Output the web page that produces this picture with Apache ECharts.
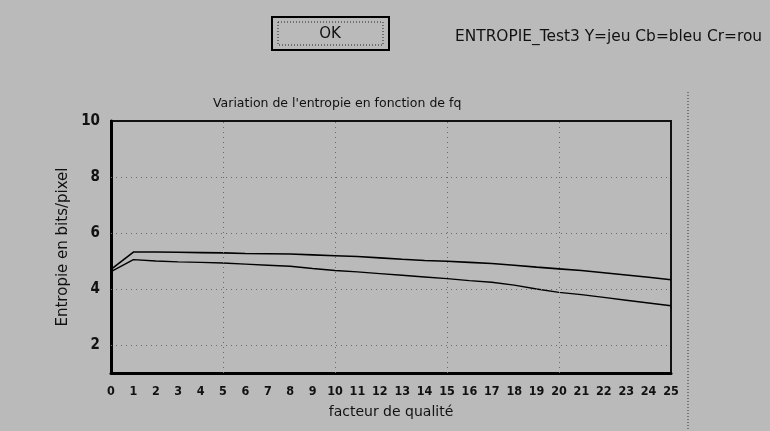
<!DOCTYPE html>
<html>
<head>
<meta charset="utf-8">
<script src="https://cdn.jsdelivr.net/npm/echarts@6/dist/echarts.min.js"></script>
<style>
  html, body { margin: 0; padding: 0; background: #bababa; }
  #chart { width: 770px; height: 431px; }
</style>
</head>
<body>
<div id="chart"></div>
<script>
// Quality factor (fq) 0..25
const qualityFactors = [0,1,2,3,4,5,6,7,8,9,10,11,12,13,14,15,16,17,18,19,20,21,22,23,24,25];

// Entropy (bits/pixel) for the two curves
const entropyUpper = [4.70,5.32,5.32,5.31,5.30,5.29,5.27,5.26,5.25,5.22,5.19,5.16,5.11,5.06,5.02,4.99,4.95,4.91,4.85,4.78,4.72,4.66,4.58,4.50,4.42,4.33];
const entropyLower = [4.62,5.05,5.00,4.97,4.95,4.93,4.89,4.85,4.81,4.73,4.66,4.61,4.55,4.49,4.43,4.37,4.30,4.24,4.14,4.00,3.88,3.80,3.70,3.60,3.50,3.40];

// Value axis labels and dotted guide positions
const yTickLabels = [2,4,6,8,10];
const yGuides = [2,4,6,8];
const xGuides = [5,10,15,20];

const chart = echarts.init(document.getElementById('chart'));

const pairs = (ys) => qualityFactors.map((x, i) => [x, ys[i]]);

const guideData = yGuides.map(v => ({ yAxis: v })).concat(xGuides.map(v => ({ xAxis: v })));

chart.setOption({
  backgroundColor: '#bababa',
  animation: false,
  title: {
    text: "Variation de l'entropie en fonction de fq",
    left: 213,
    top: 97,
    padding: 0,
    textStyle: { fontFamily: 'DejaVu Sans', fontSize: 12.5, fontWeight: 'normal', color: '#111' }
  },
  grid: {
    left: 111, right: 99, top: 121, bottom: 58,
    show: true, borderColor: '#111', borderWidth: 2, backgroundColor: 'transparent'
  },
  xAxis: {
    type: 'value', min: 0, max: 25, interval: 1,
    name: 'facteur de qualité', nameLocation: 'middle', nameGap: 32,
    nameTextStyle: { fontFamily: 'DejaVu Sans', fontSize: 14, color: '#111' },
    axisLine: { lineStyle: { color: '#000', width: 3 } },
    axisTick: { show: false },
    splitLine: { show: false },
    axisLabel: { margin: 12, color: '#111', fontFamily: 'DejaVu Sans Condensed', fontWeight: 'bold', fontSize: 12.5 }
  },
  yAxis: {
    type: 'value', min: 1, max: 10, interval: 1,
    name: 'Entropie en bits/pixel', nameLocation: 'middle', nameGap: 35, nameRotate: 90,
    nameTextStyle: { fontFamily: 'DejaVu Sans', fontSize: 15, color: '#111' },
    axisLine: { lineStyle: { color: '#000', width: 3 } },
    axisTick: { show: false },
    splitLine: { show: false },
    axisLabel: {
      margin: 11, color: '#111', fontFamily: 'DejaVu Sans Condensed', fontWeight: 'bold', fontSize: 15,
      formatter: (v) => yTickLabels.includes(v) ? String(v) : ''
    }
  },
  series: [
    {
      type: 'line', data: pairs(entropyUpper), symbol: 'none',
      lineStyle: { color: '#000', width: 1.6 },
      markLine: {
        silent: true, symbol: 'none', label: { show: false },
        lineStyle: { color: '#6a6a6a', width: 1, type: [1, 4] },
        data: guideData
      }
    },
    {
      type: 'line', data: pairs(entropyLower), symbol: 'none',
      lineStyle: { color: '#000', width: 1.4 }
    }
  ],
  graphic: [
    // OK button
    { type: 'rect', shape: { x: 272, y: 17, width: 117, height: 33 }, style: { fill: '#bababa', stroke: '#000', lineWidth: 2 } },
    { type: 'rect', shape: { x: 278, y: 22, width: 105, height: 23 }, style: { fill: 'none', stroke: '#222', lineWidth: 1, lineDash: [1, 2] } },
    { type: 'text', x: 330, y: 34, style: { text: 'OK', fontFamily: 'DejaVu Sans', fontSize: 15, fill: '#111', align: 'center', verticalAlign: 'middle' } },
    // Window header text
    { type: 'text', x: 455, y: 37, style: { text: 'ENTROPIE_Test3 Y=jeu Cb=bleu Cr=rou', fontFamily: 'DejaVu Sans', fontSize: 15.4, fill: '#111', verticalAlign: 'middle' } },
    // Dotted frame edge to the right of the plot
    { type: 'line', shape: { x1: 688, y1: 92, x2: 688, y2: 431 }, style: { stroke: '#333', lineWidth: 1, lineDash: [1, 2] } }
  ]
});
</script>
</body>
</html>
